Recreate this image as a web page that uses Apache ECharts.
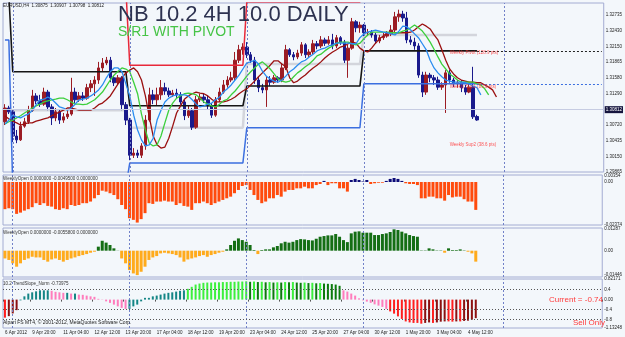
<!DOCTYPE html>
<html><head><meta charset="utf-8">
<script src="https://cdn.jsdelivr.net/npm/echarts@6/dist/echarts.min.js"></script>
<style>html,body{margin:0;padding:0;background:#f3f7fb}#c{width:625px;height:337px}</style>
</head><body><div id="c"></div>
<script>
// ---------- DATA ----------
const SLOTS = 154;
const tickIndex = [0,7,15,23,31,39,47,55,63,71,79,87,95,103,111,119];
const tickLabels = ['6 Apr 2012','9 Apr 20:00','11 Apr 04:00','12 Apr 12:00','13 Apr 20:00','17 Apr 04:00','18 Apr 12:00','19 Apr 20:00','23 Apr 04:00','24 Apr 12:00','25 Apr 20:00','27 Apr 04:00','30 Apr 12:00','1 May 20:00','3 May 04:00','4 May 12:00'];
const priceTicks = [1.29865,1.30150,1.30435,1.30720,1.31005,1.31290,1.31580,1.31865,1.32150,1.32430,1.32735];
const panel2Ticks = [0.00354,0,-0.02374];
const panel3Ticks = [0.01287,0,-0.01446];
const panel4Ticks = [0.82171,0.4,0,-0.4,-0.8,-1.13248];
const panel4TickLabels = ['0.82171','0.4','0.00','-0.4','-0.8','-1.13248'];

const open = [1.3078,1.3103,1.3096,1.3052,1.3045,1.3070,1.3078,1.3099,1.3125,1.3116,
 1.3110,1.3132,1.3105,1.3085,1.3096,1.3081,1.3087,1.3092,1.3132,1.3118,
 1.3125,1.3121,1.3140,1.3147,1.3154,1.3176,1.3185,1.3190,1.3158,1.3149,
 1.3158,1.3109,1.3081,1.3017,1.3021,1.3017,1.3034,1.3081,1.3127,1.3118,
 1.3127,1.3140,1.3134,1.3127,1.3130,1.3127,1.3114,1.3089,1.3098,1.3068,
 1.3118,1.3123,1.3118,1.3107,1.3090,1.3118,1.3132,1.3145,1.3154,1.3158,
 1.3190,1.3209,1.3214,1.3200,1.3190,1.3154,1.3140,1.3136,1.3154,1.3150,
 1.3158,1.3154,1.3176,1.3209,1.3200,1.3196,1.3203,1.3218,1.3200,1.3205,
 1.3220,1.3216,1.3227,1.3221,1.3227,1.3216,1.3231,1.3223,1.3190,1.3212,
 1.3260,1.3249,1.3254,1.3240,1.3241,1.3236,1.3225,1.3231,1.3234,1.3238,
 1.3245,1.3269,1.3274,1.3267,1.3227,1.3223,1.3216,1.3163,1.3132,1.3163,
 1.3158,1.3154,1.3141,1.3145,1.3167,1.3154,1.3147,1.3149,1.3140,1.3132,
 1.3141,1.30875];
const close = [1.3103,1.3096,1.3052,1.3045,1.3070,1.3078,1.3099,1.3125,1.3116,1.3110,
 1.3132,1.3105,1.3085,1.3096,1.3081,1.3087,1.3092,1.3132,1.3118,1.3125,
 1.3121,1.3140,1.3147,1.3154,1.3176,1.3185,1.3190,1.3158,1.3149,1.3158,
 1.3109,1.3081,1.3017,1.3021,1.3017,1.3034,1.3081,1.3127,1.3118,1.3127,
 1.3140,1.3134,1.3127,1.3130,1.3127,1.3114,1.3089,1.3098,1.3068,1.3118,
 1.3123,1.3118,1.3107,1.3090,1.3118,1.3132,1.3145,1.3154,1.3158,1.3190,
 1.3209,1.3214,1.3200,1.3190,1.3154,1.3140,1.3136,1.3154,1.3150,1.3158,
 1.3154,1.3176,1.3209,1.3200,1.3196,1.3203,1.3218,1.3200,1.3205,1.3220,
 1.3216,1.3227,1.3221,1.3227,1.3216,1.3231,1.3223,1.3190,1.3212,1.3260,
 1.3249,1.3254,1.3240,1.3241,1.3236,1.3225,1.3231,1.3234,1.3238,1.3245,
 1.3269,1.3274,1.3267,1.3227,1.3223,1.3216,1.3163,1.3132,1.3163,1.3158,
 1.3154,1.3141,1.3145,1.3167,1.3154,1.3147,1.3149,1.3140,1.3132,1.3141,
 1.3087,1.30812];
const high = [1.3110,1.3107,1.3099,1.3063,1.3078,1.3085,1.3107,1.3136,1.3130,1.3127,
 1.3140,1.3136,1.3110,1.3103,1.3101,1.3094,1.3099,1.3158,1.3140,1.3132,
 1.3132,1.3147,1.3154,1.3161,1.3187,1.3194,1.3196,1.3196,1.3163,1.3163,
 1.3161,1.3114,1.3085,1.3030,1.3027,1.3039,1.3090,1.3140,1.3136,1.3140,
 1.3154,1.3149,1.3140,1.3136,1.3138,1.3132,1.3118,1.3107,1.3103,1.3125,
 1.3129,1.3130,1.3125,1.3112,1.3123,1.3140,1.3154,1.3161,1.3169,1.3205,
 1.3218,1.3221,1.3223,1.3205,1.3196,1.3160,1.3147,1.3160,1.3161,1.3163,
 1.3161,1.3183,1.3218,1.3212,1.3205,1.3209,1.3223,1.3221,1.3210,1.3227,
 1.3225,1.3234,1.3231,1.3234,1.3238,1.3236,1.3234,1.3227,1.3218,1.3267,
 1.3263,1.3260,1.3256,1.3247,1.3245,1.3240,1.3236,1.3240,1.3243,1.3254,
 1.3278,1.3282,1.3280,1.3278,1.3234,1.3231,1.3221,1.3169,1.3169,1.3167,
 1.3163,1.3160,1.3150,1.3172,1.3172,1.3158,1.3154,1.3154,1.3145,1.3147,
 1.3178,1.30907];
const low = [1.3072,1.3092,1.3041,1.3039,1.3043,1.3067,1.3074,1.3096,1.3110,1.3105,
 1.3107,1.3099,1.3072,1.3079,1.3074,1.3076,1.3083,1.3089,1.3112,1.3114,
 1.3116,1.3118,1.3132,1.3125,1.3147,1.3170,1.3181,1.3150,1.3143,1.3145,
 1.3099,1.3072,1.3008,1.3012,1.3012,1.3012,1.3027,1.3078,1.3110,1.3107,
 1.3118,1.3127,1.3123,1.3123,1.3121,1.3109,1.3081,1.3085,1.3063,1.3065,
 1.3114,1.3112,1.3101,1.3085,1.3087,1.3114,1.3129,1.3140,1.3150,1.3154,
 1.3185,1.3200,1.3194,1.3185,1.3147,1.3132,1.3130,1.3105,1.3143,1.3147,
 1.3149,1.3150,1.3172,1.3196,1.3190,1.3192,1.3198,1.3194,1.3196,1.3201,
 1.3210,1.3212,1.3216,1.3218,1.3210,1.3212,1.3218,1.3185,1.3158,1.3209,
 1.3241,1.3240,1.3234,1.3234,1.3231,1.3220,1.3221,1.3227,1.3231,1.3234,
 1.3241,1.3260,1.3260,1.3221,1.3218,1.3209,1.3158,1.3123,1.3127,1.3150,
 1.3145,1.3136,1.3136,1.3094,1.3149,1.3141,1.3140,1.3132,1.3127,1.3130,
 1.3083,1.30798];

const maBlue = [1.3074,1.3081,1.3090,1.3087,1.3085,1.3089,1.3092,1.3098,1.3109,1.3118,
 1.3119,1.3123,1.3119,1.3112,1.3105,1.3103,1.3099,1.3103,1.3110,1.3118,
 1.3119,1.3121,1.3125,1.3130,1.3136,1.3145,1.3158,1.3169,1.3176,1.3176,
 1.3169,1.3147,1.3125,1.3090,1.3063,1.3045,1.3034,1.3036,1.3048,1.3081,
 1.3099,1.3114,1.3121,1.3125,1.3127,1.3127,1.3127,1.3125,1.3118,1.3110,
 1.3105,1.3107,1.3110,1.3112,1.3118,1.3123,1.3132,1.3138,1.3145,1.3154,
 1.3163,1.3174,1.3185,1.3187,1.3190,1.3183,1.3170,1.3161,1.3156,1.3152,
 1.3150,1.3154,1.3161,1.3169,1.3174,1.3181,1.3187,1.3190,1.3196,1.3201,
 1.3207,1.3210,1.3212,1.3216,1.3218,1.3221,1.3221,1.3221,1.3221,1.3220,
 1.3220,1.3231,1.3238,1.3241,1.3243,1.3245,1.3243,1.3241,1.3240,1.3238,
 1.3236,1.3243,1.3252,1.3251,1.3245,1.3238,1.3231,1.3220,1.3209,1.3190,
 1.3176,1.3167,1.3160,1.3154,1.3152,1.3150,1.3150,1.3150,1.3149,1.3147,
 1.3143,1.3140,1.3127];
const maGreen = [1.3074,1.3078,1.3081,1.3085,1.3089,1.3094,1.3098,1.3103,1.3107,1.3110,
 1.3114,1.3116,1.3118,1.3119,1.3121,1.3121,1.3118,1.3114,1.3110,1.3110,
 1.3109,1.3110,1.3114,1.3118,1.3125,1.3132,1.3143,1.3154,1.3163,1.3170,
 1.3176,1.3174,1.3169,1.3150,1.3129,1.3092,1.3063,1.3039,1.3034,1.3036,
 1.3052,1.3076,1.3099,1.3112,1.3121,1.3125,1.3129,1.3130,1.3129,1.3127,
 1.3121,1.3114,1.3110,1.3107,1.3105,1.3110,1.3116,1.3119,1.3127,1.3134,
 1.3143,1.3152,1.3161,1.3169,1.3176,1.3183,1.3187,1.3181,1.3174,1.3165,
 1.3156,1.3152,1.3150,1.3152,1.3160,1.3167,1.3172,1.3178,1.3183,1.3190,
 1.3198,1.3201,1.3207,1.3212,1.3216,1.3221,1.3223,1.3223,1.3223,1.3220,
 1.3218,1.3221,1.3229,1.3236,1.3241,1.3241,1.3241,1.3241,1.3241,1.3240,
 1.3240,1.3240,1.3243,1.3245,1.3249,1.3254,1.3249,1.3243,1.3234,1.3223,
 1.3210,1.3196,1.3183,1.3174,1.3165,1.3160,1.3154,1.3150,1.3150,1.3150,
 1.3150,1.3147,1.3145,1.3138,1.3127];
const maRed = [1.3089,1.3083,1.3079,1.3076,1.3072,1.3074,1.3076,1.3076,1.3079,1.3081,
 1.3083,1.3085,1.3089,1.3092,1.3096,1.3099,1.3103,1.3103,1.3101,1.3099,
 1.3099,1.3099,1.3099,1.3103,1.3109,1.3112,1.3118,1.3125,1.3136,1.3147,
 1.3158,1.3167,1.3172,1.3176,1.3169,1.3154,1.3125,1.3087,1.3052,1.3036,
 1.3030,1.3032,1.3048,1.3070,1.3094,1.3107,1.3119,1.3125,1.3129,1.3132,
 1.3130,1.3129,1.3125,1.3119,1.3114,1.3114,1.3114,1.3116,1.3119,1.3123,
 1.3129,1.3134,1.3138,1.3145,1.3152,1.3160,1.3167,1.3174,1.3181,1.3189,
 1.3189,1.3183,1.3178,1.3158,1.3149,1.3152,1.3158,1.3163,1.3170,1.3176,
 1.3181,1.3187,1.3194,1.3200,1.3205,1.3209,1.3214,1.3216,1.3220,1.3223,
 1.3221,1.3212,1.3207,1.3205,1.3212,1.3221,1.3229,1.3234,1.3240,1.3241,
 1.3240,1.3240,1.3240,1.3240,1.3241,1.3245,1.3251,1.3256,1.3252,1.3247,
 1.3236,1.3227,1.3209,1.3190,1.3174,1.3165,1.3158,1.3154,1.3152,1.3150,
 1.3150,1.3149,1.3149,1.3145,1.3141,1.3136,1.3123];

const weekStart = [0,2,32,62,92];
const pivotLv = [1.3310,1.3169,1.3107,1.3143,1.3207];
const r1Lv    = [1.3320,1.3320,1.3181,1.3296,1.3320];
const s1Lv    = [1.3227,1.2960,1.3003,1.3067,1.3147];
const midLv   = [1.3099,1.3099,1.3067,1.3183,1.3236];
const bid = 1.30812;
const separators = [2,32,62,92,128];
const levelNames = ['Weekly Pivot (128.9 pts)','Weekly Sup1 (83.0 pts)','Weekly Sup2 (38.6 pts)'];
const levelPrices = [1.3203,1.3141,1.3036];
const levelBar = 114;

const weeklyOpenA = [-0.0150,-0.0145,-0.0150,-0.0176,-0.0169,-0.0158,-0.0150,-0.0139,-0.0117,-0.0127,
 -0.0117,-0.0132,-0.0136,-0.0150,-0.0154,-0.0145,-0.0150,-0.0127,-0.0132,-0.0127,
 -0.0117,-0.0117,-0.0108,-0.0090,-0.0072,-0.0048,-0.0053,-0.0062,-0.0072,-0.0095,
 -0.0127,-0.0150,-0.0200,-0.0209,-0.0224,-0.0205,-0.0172,-0.0117,-0.0121,-0.0108,
 -0.0108,-0.0103,-0.0108,-0.0108,-0.0127,-0.0117,-0.0132,-0.0136,-0.0154,-0.0117,
 -0.0117,-0.0108,-0.0117,-0.0127,-0.0117,-0.0108,-0.0099,-0.0090,-0.0081,-0.0062,
 -0.0044,-0.0022,-0.0017,-0.0044,-0.0072,-0.0099,-0.0117,-0.0108,-0.0090,-0.0090,
 -0.0072,-0.0081,-0.0053,-0.0044,-0.0044,-0.0035,-0.0035,-0.0026,-0.0035,-0.0035,
 -0.0017,-0.0011,0.0006,-0.0017,-0.0007,-0.0007,-0.0035,-0.0035,-0.0053,0.0011,
 0.0017,0.0011,0.0003,0.0011,-0.0011,-0.0007,-0.0004,-0.0004,0.0006,0.0017,
 0.0022,0.0017,0.0006,-0.0007,-0.0011,-0.0011,-0.0017,-0.0090,-0.0090,-0.0081,
 -0.0081,-0.0090,-0.0090,-0.0103,-0.0072,-0.0085,-0.0081,-0.0081,-0.0095,-0.0108,
 -0.0108,-0.0154];
const weeklyOpenB = [-0.0046,-0.0055,-0.0075,-0.0095,-0.0075,-0.0055,-0.0046,-0.0036,-0.0040,-0.0040,
 -0.0055,-0.0065,-0.0052,-0.0046,-0.0055,-0.0065,-0.0055,-0.0046,-0.0040,-0.0032,
 -0.0026,-0.0020,-0.0012,-0.0006,0.0024,0.0059,0.0048,0.0034,0.0014,0.0001,
 -0.0046,-0.0075,-0.0115,-0.0135,-0.0145,-0.0125,-0.0095,-0.0055,-0.0040,-0.0032,
 -0.0016,-0.0012,-0.0016,-0.0020,-0.0026,-0.0040,-0.0065,-0.0052,-0.0046,-0.0040,
 -0.0032,-0.0026,-0.0036,-0.0026,-0.0020,-0.0012,-0.0006,0.0008,0.0034,0.0059,
 0.0073,0.0063,0.0053,0.0034,0.0004,-0.0020,0.0004,0.0008,0.0008,0.0020,
 0.0028,0.0044,0.0053,0.0048,0.0053,0.0063,0.0069,0.0067,0.0063,0.0061,
 0.0071,0.0083,0.0087,0.0091,0.0091,0.0099,0.0083,0.0063,0.0051,0.0103,
 0.0113,0.0115,0.0107,0.0107,0.0107,0.0093,0.0093,0.0099,0.0103,0.0111,
 0.0127,0.0123,0.0113,0.0103,0.0093,0.0087,0.0083,0.0002,0.0002,0.0014,
 0.0008,0.0002,0.0002,-0.0012,0.0014,0.0004,0.0004,0.0008,0.0002,-0.0006,
 -0.0016,-0.0065];
const trendSlope = [-0.72,-0.66,-0.55,-0.42,-0.03,0.13,0.24,0.29,0.33,0.37,
 0.37,0.37,0.35,0.31,0.29,0.27,0.27,0.24,0.24,0.20,
 0.19,0.16,0.13,0.11,0.03,0.01,-0.07,-0.13,-0.20,-0.27,
 -0.33,-0.37,-0.37,-0.27,-0.20,-0.07,0.07,0.07,0.13,0.16,
 0.20,0.24,0.27,0.29,0.32,0.35,0.37,0.43,0.51,0.60,
 0.64,0.67,0.68,0.68,0.69,0.69,0.70,0.70,0.71,0.71,
 0.72,0.72,0.73,0.71,0.72,0.70,0.71,0.69,0.70,0.68,
 0.69,0.68,0.70,0.69,0.70,0.68,0.67,0.68,0.66,0.67,
 0.65,0.66,0.64,0.63,0.62,0.60,0.55,0.37,0.32,0.24,
 0.16,0.05,-0.03,-0.08,-0.13,-0.19,-0.24,-0.29,-0.37,-0.47,
 -0.56,-0.67,-0.77,-0.87,-0.91,-0.93,-0.93,-0.96,-0.93,-0.91,
 -0.93,-0.91,-0.88,-0.87,-0.87,-0.88,-0.87,-0.87,-0.85,-0.84,
 -0.80,-0.74];

// ---------- BUILD ----------
const FONT = 'Liberation Sans, Arial, sans-serif';
const categories = Array.from({length: SLOTS}, (_, i) => String(i));
const lastBar = close.length - 1;
function levelSeries(levels) {
  const out = [];
  for (let i = 0; i <= lastBar; i++) {
    let k = 0;
    for (let j = 0; j < weekStart.length; j++) if (i >= weekStart[j]) k = j;
    out.push(levels[k]);
  }
  return out;
}
const candleData = open.map((o, i) => [o, close[i], low[i], high[i]]);
const sepLines = separators.map(s => ({xAxis: String(s)}));
const sepStyle = {color: '#7181c8', type: [2, 2], width: 1};

function slopeColor(i) {
  const v = trendSlope[i], p = i > 0 ? trendSlope[i - 1] : v;
  if (v >= 0.4) return v >= p ? '#3cf03c' : '#0b7a0b';
  if (v <= -0.4) return v <= p ? '#ff1e1e' : '#8c1010';
  return v >= p ? '#138585' : '#ff7cbc';
}

const grids = [
  {left: 3, right: 18, top: 3, height: 169},
  {left: 3, right: 18, top: 175, height: 50},
  {left: 3, right: 18, top: 228, height: 49},
  {left: 3, right: 18, top: 279, height: 49}
].map(g => Object.assign(g, {show: true, borderColor: '#a3acd2', borderWidth: 1, backgroundColor: 'transparent'}));

const xAxes = [0, 1, 2, 3].map(gi => ({
  type: 'category', gridIndex: gi, data: categories, boundaryGap: true,
  axisLine: {show: false},
  axisTick: gi === 3 ? {show: true, length: 2, lineStyle: {color: '#555'}, interval: (idx) => tickIndex.indexOf(idx) >= 0} : {show: false},
  axisLabel: gi === 3 ? {
    show: true, fontSize: 4.5, color: '#222', margin: 2, align: 'left', fontFamily: FONT,
    interval: (idx) => tickIndex.indexOf(idx) >= 0,
    formatter: (v, idx) => { const k = tickIndex.indexOf(Number(v)); return k >= 0 ? tickLabels[k] : ''; }
  } : {show: false},
  splitLine: {show: false}
}));

const yLabel = (vals, fmt) => ({show: true, customValues: vals, formatter: fmt, fontSize: 4.5, color: '#222', margin: 2, fontFamily: FONT});
const yAxes = [
  {type: 'value', gridIndex: 0, position: 'right', min: 1.29865, max: 1.32942,
   axisLabel: yLabel(priceTicks, v => v.toFixed(5))},
  {type: 'value', gridIndex: 1, position: 'right', min: -0.02374, max: 0.00386,
   axisLabel: yLabel(panel2Ticks, v => v === 0 ? '0.00' : v.toFixed(5))},
  {type: 'value', gridIndex: 2, position: 'right', min: -0.01562, max: 0.01348,
   axisLabel: yLabel(panel3Ticks, v => v === 0 ? '0.00' : v.toFixed(5))},
  {type: 'value', gridIndex: 3, position: 'right', min: -1.13248, max: 0.82171,
   axisLabel: yLabel(panel4Ticks, v => { const k = panel4Ticks.indexOf(v); return k >= 0 ? panel4TickLabels[k] : ''; })}
].map(a => Object.assign(a, {axisLine: {show: false}, axisTick: {show: false}, splitLine: {show: false}}));

const lineBase = (name, data, color, width, z) => ({
  type: 'line', name, data, xAxisIndex: 0, yAxisIndex: 0, symbol: 'none', z: z || 3,
  lineStyle: {color, width}, silent: true, animation: false
});

const pivotData = levelSeries(pivotLv), s1Data = levelSeries(s1Lv);
const pivotLast = pivotLv[pivotLv.length - 1], s1Last = s1Lv[s1Lv.length - 1];

const series = [
  {type: 'candlestick', name: 'EURUSD,H4', xAxisIndex: 0, yAxisIndex: 0, data: candleData, barWidth: 3, z: 2,
   itemStyle: {color: '#9b1c24', color0: '#1a1a8c', borderColor: '#9b1c24', borderColor0: '#1a1a8c', borderWidth: 1},
   markLine: {silent: true, symbol: ['none', 'none'], animation: false, label: {show: false},
     data: [
       {yAxis: bid, lineStyle: {color: '#c6cce2', type: 'solid', width: 1},
        label: {show: true, position: 'end', distance: 1, formatter: bid.toFixed(5), color: '#ffffff', backgroundColor: '#15153e', fontSize: 4.5, padding: [1, 1], fontFamily: FONT}},
       ...sepLines.map(s => Object.assign({lineStyle: sepStyle}, s))
     ]}},
  lineBase('mid', levelSeries(midLv), '#d3d5dc', 2.5, 1),
  Object.assign(lineBase('S1', s1Data, '#3b6fe0', 1.5), {
    markLine: {silent: true, symbol: ['none', 'none'], label: {show: false}, animation: false,
      data: [[{coord: [String(lastBar), s1Last]}, {coord: [String(SLOTS - 1), s1Last]}]],
      lineStyle: {color: '#3b6fe0', type: [2, 2], width: 1}}}),
  lineBase('R1', levelSeries(r1Lv), '#e8283a', 1.5),
  Object.assign(lineBase('Pivot', pivotData, '#151515', 1.6), {
    markLine: {silent: true, symbol: ['none', 'none'], label: {show: false}, animation: false,
      data: [[{coord: [String(lastBar), pivotLast]}, {coord: [String(SLOTS - 1), pivotLast]}]],
      lineStyle: {color: '#222', type: [2, 2], width: 1}}}),
  lineBase('MA slow', maRed, '#9a1010', 1.3, 4),
  lineBase('MA mid', maGreen, '#3ccf3c', 1.3, 4),
  lineBase('MA fast', maBlue, '#2a8cf0', 1.3, 4),
  {type: 'scatter', xAxisIndex: 0, yAxisIndex: 0, symbolSize: 0, z: 6, silent: true,
   data: levelPrices.map((p, k) => ({value: [String(levelBar), p], name: levelNames[k]})),
   label: {show: true, position: 'right', distance: 0, formatter: p => p.name, color: '#ff2a2a', fontSize: 4.5, fontFamily: FONT}},
  {type: 'bar', xAxisIndex: 1, yAxisIndex: 1, data: weeklyOpenA, barWidth: 3, silent: true,
   itemStyle: {color: p => p.value < 0 ? '#ff4b0d' : '#0c0c78'},
   markLine: {silent: true, symbol: ['none', 'none'], label: {show: false}, animation: false, lineStyle: sepStyle, data: sepLines}},
  {type: 'bar', xAxisIndex: 2, yAxisIndex: 2, data: weeklyOpenB, barWidth: 3, silent: true,
   itemStyle: {color: p => p.value < 0 ? '#ffab1c' : '#146e14'},
   markLine: {silent: true, symbol: ['none', 'none'], label: {show: false}, animation: false, lineStyle: sepStyle, data: sepLines}},
  {type: 'bar', xAxisIndex: 3, yAxisIndex: 3, data: trendSlope, barWidth: 2, silent: true,
   itemStyle: {color: p => slopeColor(p.dataIndex)},
   markLine: {silent: true, symbol: ['none', 'none'], label: {show: false}, animation: false,
     data: [
       ...sepLines.map(s => Object.assign({lineStyle: sepStyle}, s)),
       ...[0.4, -0.4, -0.8].map(v => ({yAxis: v, lineStyle: {color: '#555', type: [1, 2], width: 1}}))
     ]}}
];

const txt = (x, y, text, size, fill, extra) => ({type: 'text', x, y, silent: true, z: 100,
  style: Object.assign({text, fontSize: size, fill, fontFamily: FONT, align: 'left', verticalAlign: 'top'}, extra || {})});

const chart = echarts.init(document.getElementById('c'), null, {renderer: 'canvas'});
chart.setOption({
  animation: false,
  backgroundColor: '#f3f7fb',
  textStyle: {fontFamily: FONT},
  grid: grids, xAxis: xAxes, yAxis: yAxes, series,
  graphic: [
    txt(3, 3, 'EURUSD,H4  1.30875  1.30907  1.30798  1.30812', 4.5, '#1c1c1c'),
    txt(118, 4, 'NB 10.2 4H 10.0 DAILY', 22, '#2d3250'),
    txt(118, 25, 'S/R1 WITH PIVOT', 14, '#46c446'),
    txt(3, 176, 'WeeklyOpen 0.0000000 -0.0049500 0.0000000', 4.5, '#333'),
    txt(3, 230, 'WeeklyOpen 0.0000000 -0.0055800 0.0000000', 4.5, '#333'),
    txt(3, 281.5, '10.2 TrendSlope_Norm -0.73975', 4.5, '#333'),
    txt(3, 320, 'Alpari FS MT4, \u00a9 2001-2012, MetaQuotes Software Corp.', 5, '#222'),
    txt(603, 300, 'Current = -0.74', 8, '#ff3b3b', {align: 'right', verticalAlign: 'middle'}),
    txt(605, 323, 'Sell Only', 8, '#ff3b3b', {align: 'right', verticalAlign: 'middle'})
  ]
});
</script>
</body></html>
